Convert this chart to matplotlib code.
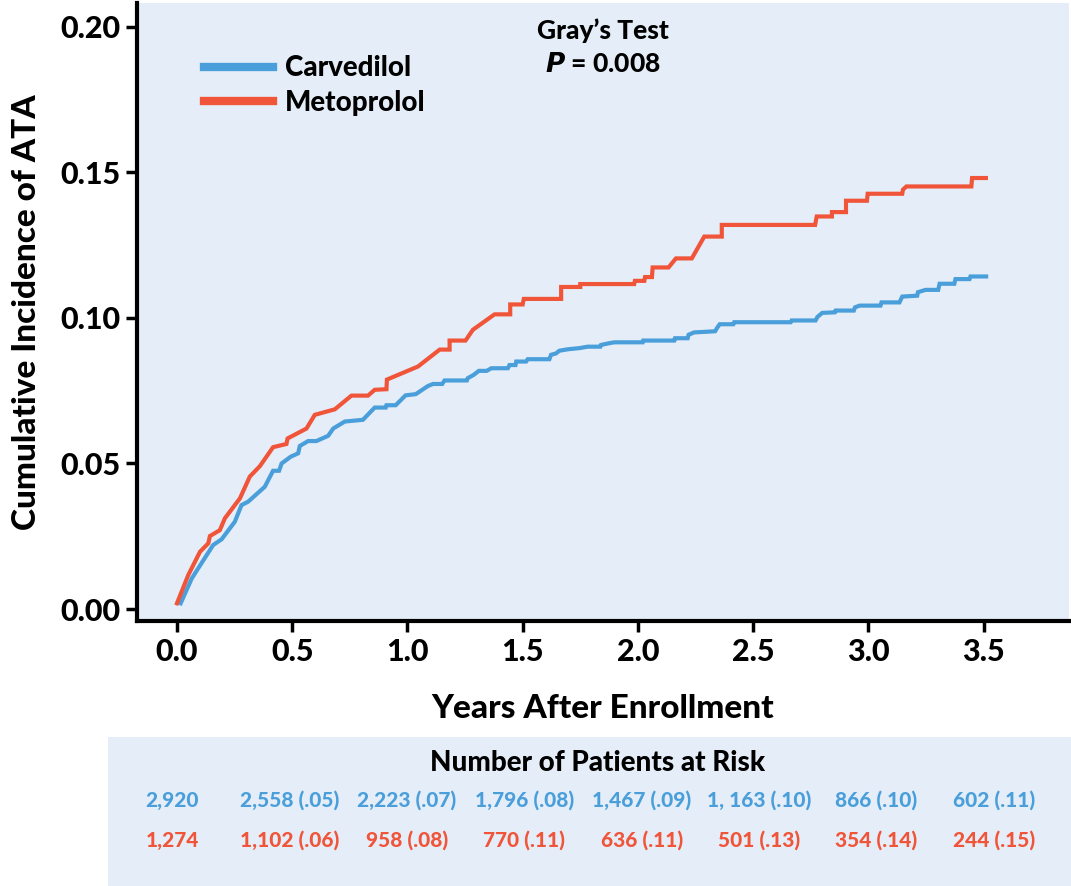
import matplotlib
matplotlib.use('Agg')
import matplotlib.pyplot as plt
import numpy as np
from matplotlib.patches import Rectangle

BLUE = '#4A9FDB'
RED = '#F0553A'
BG = '#E5EEF8'
FONT = 'Lato'
W = 'black'

plt.rcParams['font.family'] = [FONT, 'DejaVu Sans']
plt.rcParams['font.weight'] = W

# Carvedilol curve
carv_t = [0.016, 0.064, 0.092, 0.157, 0.194, 0.251, 0.280, 0.309, 0.381, 0.417,
          0.443, 0.454, 0.493, 0.526, 0.533, 0.569, 0.605, 0.656, 0.678, 0.728,
          0.807, 0.858, 0.906, 0.909, 0.949, 0.992, 1.036, 1.089, 1.111, 1.151,
          1.161, 1.258, 1.262, 1.287, 1.310, 1.344, 1.364, 1.436, 1.443, 1.469,
          1.472, 1.515, 1.522, 1.616, 1.623, 1.645, 1.659, 1.695, 1.746, 1.782,
          1.837, 1.840, 1.876, 1.898, 2.021, 2.023, 2.158, 2.161, 2.216, 2.220,
          2.244, 2.292, 2.335, 2.345, 2.355, 2.414, 2.418, 2.663, 2.667, 2.771,
          2.779, 2.800, 2.855, 2.858, 2.937, 2.942, 2.962, 3.053, 3.057, 3.135,
          3.147, 3.212, 3.215, 3.248, 3.303, 3.309, 3.373, 3.378, 3.439, 3.443,
          3.511]
carv_y = [0.002, 0.0105, 0.014, 0.022, 0.024, 0.030, 0.0357, 0.0369, 0.042, 0.0475,
          0.0475, 0.050, 0.0523, 0.0535, 0.056, 0.0577, 0.0577, 0.0595, 0.062, 0.0644,
          0.065, 0.0692, 0.0692, 0.0700, 0.0700, 0.0734, 0.0738, 0.0766, 0.0773, 0.0773,
          0.0785, 0.0785, 0.0793, 0.0804, 0.0818, 0.0818, 0.0827, 0.0827, 0.0838, 0.0838,
          0.085, 0.085, 0.0858, 0.0858, 0.0873, 0.0878, 0.0887, 0.0892, 0.0896, 0.0901,
          0.0901, 0.0907, 0.0913, 0.0916, 0.0916, 0.0922, 0.0922, 0.093, 0.093, 0.0942,
          0.0950, 0.0952, 0.0954, 0.0967, 0.0978, 0.0978, 0.0985, 0.0985, 0.0991, 0.0991,
          0.1003, 0.1017, 0.1019, 0.1025, 0.1025, 0.1036, 0.1042, 0.1042, 0.1053, 0.1053,
          0.1073, 0.1076, 0.1088, 0.1096, 0.1096, 0.1117, 0.1117, 0.1133, 0.1133, 0.1142,
          0.1142]

# Metoprolol curve
meto_t = [0.0, 0.049, 0.10, 0.136, 0.143, 0.186, 0.208, 0.273, 0.316, 0.36,
          0.417, 0.475, 0.48, 0.562, 0.598, 0.685, 0.757, 0.829, 0.858, 0.909,
          0.911, 1.046, 1.14, 1.183, 1.183, 1.252, 1.284, 1.378, 1.446, 1.446,
          1.50, 1.505, 1.667, 1.667, 1.75, 1.75, 1.984, 1.987, 2.028, 2.031,
          2.061, 2.064, 2.133, 2.165, 2.234, 2.288, 2.364, 2.364, 2.769, 2.776,
          2.842, 2.842, 2.903, 2.903, 2.994, 2.997, 3.147, 3.150, 3.165, 3.447,
          3.450, 3.51]
meto_y = [0.002, 0.0117, 0.0197, 0.0226, 0.0251, 0.0271, 0.0312, 0.038, 0.0455, 0.0491,
          0.0556, 0.0567, 0.0586, 0.062, 0.0667, 0.0686, 0.0733, 0.0733, 0.0753, 0.0755,
          0.0788, 0.0833, 0.0891, 0.0891, 0.0922, 0.0922, 0.0959, 0.1012, 0.1012, 0.1046,
          0.1046, 0.1065, 0.1065, 0.1106, 0.1106, 0.1116, 0.1116, 0.1127, 0.1127, 0.114,
          0.114, 0.1173, 0.1173, 0.1204, 0.1204, 0.1279, 0.1279, 0.1319, 0.1319, 0.1348,
          0.1348, 0.1363, 0.1363, 0.1402, 0.1402, 0.1426, 0.1426, 0.144, 0.1451, 0.1451,
          0.148, 0.148]

# number at risk table
carv_risk = ['2,920', '2,558 (.05)', '2,223 (.07)', '1,796 (.08)', '1,467 (.09)',
             '1, 163 (.10)', '866 (.10)', '602 (.11)']
meto_risk = ['1,274', '1,102 (.06)', '958 (.08)', '770 (.11)', '636 (.11)',
             '501 (.13)', '354 (.14)', '244 (.15)']

x_ticks = [0.0, 0.5, 1.0, 1.5, 2.0, 2.5, 3.0, 3.5]
y_ticks = [0.00, 0.05, 0.10, 0.15, 0.20]

fig = plt.figure(figsize=(10.71, 8.86), dpi=100)
ax = fig.add_axes([0.128, 0.299, 0.870, 0.698])
ax.set_facecolor(BG)

ax.plot(carv_t, carv_y, color=BLUE, linewidth=3.0, solid_joinstyle='miter')
ax.plot(meto_t, meto_y, color=RED, linewidth=3.0, solid_joinstyle='miter')

ax.set_xlim(-0.173, 3.87)
ax.set_ylim(-0.0041, 0.2082)
ax.set_xticks(x_ticks)
ax.set_xticklabels(['%.1f' % v for v in x_ticks])
ax.set_yticks(y_ticks)
ax.set_yticklabels(['%.2f' % v for v in y_ticks])

for s in ['top', 'right']:
    ax.spines[s].set_visible(False)
for s in ['left', 'bottom']:
    ax.spines[s].set_linewidth(3.0)
ax.tick_params(axis='both', length=8, width=2.5, labelsize=22, pad=4)
for lab in ax.get_xticklabels() + ax.get_yticklabels():
    lab.set_fontweight(W)

ax.set_xlabel('Years After Enrollment', fontsize=24, fontweight=W, labelpad=20)
ax.set_ylabel('Cumulative Incidence of ATA', fontsize=24, fontweight=W, labelpad=14)

# legend
leg = ax.legend(['Carvedilol', 'Metoprolol'], loc='upper left',
                bbox_to_anchor=(0.045, 0.955), frameon=False, fontsize=20,
                handlelength=2.5, handletextpad=0.4, labelspacing=0.3)
for h in leg.get_lines():
    h.set_linewidth(6)
for t in leg.get_texts():
    t.set_fontweight(W)

ax.text(0.5, 0.975, "Gray\u2019s Test", transform=ax.transAxes, ha='center',
        va='top', fontsize=19, fontweight=W)
ax.text(0.5, 0.92, r"$\bf{\it{P}}$ = 0.008", transform=ax.transAxes,
        ha='center', va='top', fontsize=19, fontweight=W)

# number at risk box
fig.patches.append(Rectangle((108 / 1071, 0), 1 - 108 / 1071, 1 - 737 / 886,
                             transform=fig.transFigure, facecolor=BG,
                             edgecolor='none', zorder=0))
fig.text(598 / 1071, 1 - 763 / 886, 'Number of Patients at Risk', ha='center',
         va='center', fontsize=20, fontweight=W)
col_x = np.linspace(172, 994, len(carv_risk)) / 1071
for x, c, m in zip(col_x, carv_risk, meto_risk):
    fig.text(x, 1 - 800 / 886, c, ha='center', va='center',
             fontsize=15, fontweight=W, color=BLUE)
    fig.text(x, 1 - 840 / 886, m, ha='center', va='center',
             fontsize=15, fontweight=W, color=RED)

fig.savefig('out.png', dpi=100, facecolor='white')
